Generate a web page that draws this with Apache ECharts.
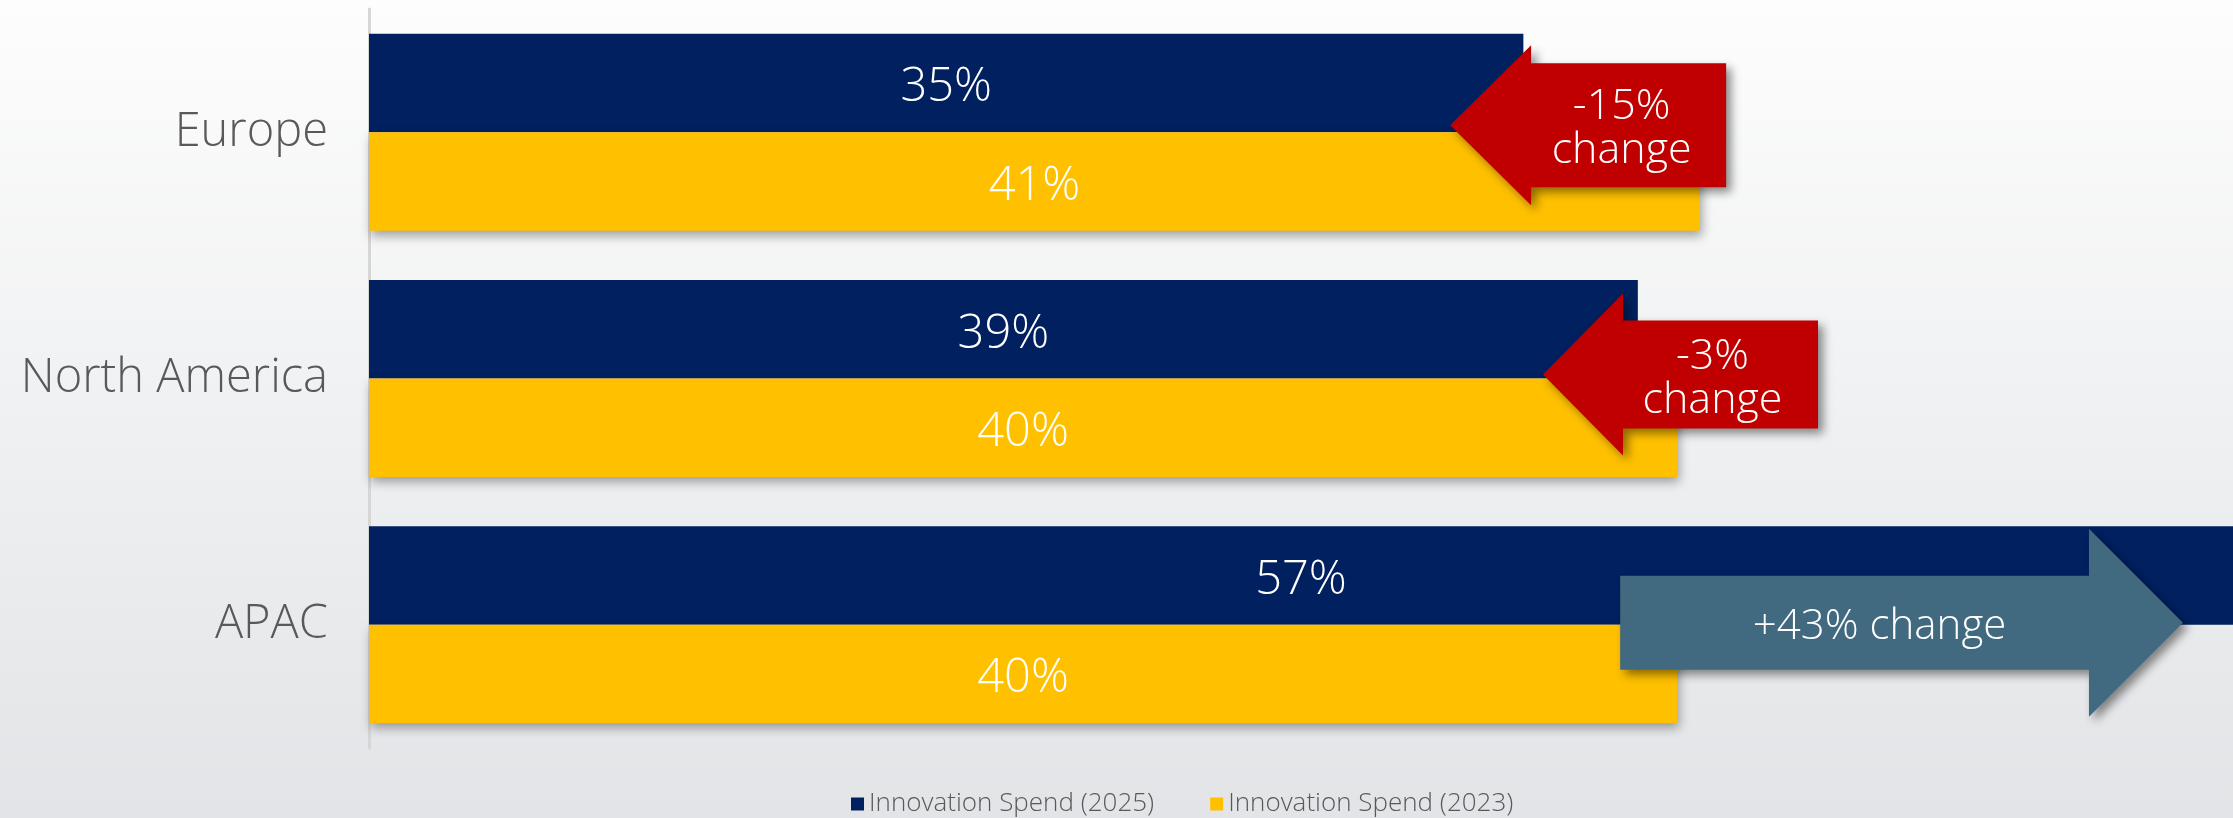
<!DOCTYPE html>
<html>
<head>
<meta charset="utf-8">
<style>
html,body{margin:0;padding:0;width:2233px;height:818px;overflow:hidden;}
#chart{width:2233px;height:818px;}
</style>
<script src="https://cdn.jsdelivr.net/npm/echarts@6/dist/echarts.min.js"></script>
</head>
<body>
<div id="chart"></div>
<script>
// ---- data ----
const categories = ['Europe', 'North America', 'APAC'];
const spend2025 = [35.3, 38.8, 57];
const spend2023 = [40.7, 40.0, 40.0];
const seriesNames = ['Innovation Spend (2025)', 'Innovation Spend (2023)'];
const changeLabels = ['-15%\nchange', '-3%\nchange', '+43% change'];

// ---- styling / annotation layout ----
const FONT = "'Open Sans', 'Noto Sans', sans-serif";
const NAVY = '#002060', GOLD = '#FFC000', RED = '#C00000', STEEL = '#41697F';
// arrow geometry: x positions in value-axis units, sizes in px
const arrowLayout = [
  { dir: -1, from: 33.06, to: 41.50, dy: -7, head: 80, body: 62, headLen: 81, color: RED, fontSize: 43, textDx: -7, textDy: 4 },
  { dir: -1, from: 35.90, to: 44.31, dy: -4, head: 81, body: 54, headLen: 80, color: RED, fontSize: 43, textDx: -8, textDy: 4 },
  { dir: 1, from: 38.26, to: 55.47, dy: -2, head: 94, body: 47, headLen: 94, color: STEEL, fontSize: 42, textDx: 25, textDy: 4 }
];

const chart = echarts.init(document.getElementById('chart'));

function renderArrow(params, api) {
  const i = params.dataIndex;
  const L = arrowLayout[i];
  const c = api.coord([L.from, api.value(1)]);
  const x1 = c[0];
  const x2 = api.coord([L.to, api.value(1)])[0];
  const cy = c[1] + L.dy;
  let pts, bodyL, bodyR;
  if (L.dir < 0) {
    const xh = x1 + L.headLen;
    pts = [[x1, cy], [xh, cy - L.head], [xh, cy - L.body], [x2, cy - L.body],
           [x2, cy + L.body], [xh, cy + L.body], [xh, cy + L.head]];
    bodyL = xh; bodyR = x2;
  } else {
    const xh = x2 - L.headLen;
    pts = [[x1, cy - L.body], [xh, cy - L.body], [xh, cy - L.head], [x2, cy],
           [xh, cy + L.head], [xh, cy + L.body], [x1, cy + L.body]];
    bodyL = x1; bodyR = xh;
  }
  return {
    type: 'group',
    children: [
      {
        type: 'polygon',
        shape: { points: pts },
        style: {
          fill: L.color,
          shadowBlur: 10, shadowOffsetX: 5, shadowOffsetY: 5,
          shadowColor: 'rgba(0,0,0,0.45)'
        }
      },
      {
        type: 'text',
        style: {
          text: changeLabels[i],
          x: (bodyL + bodyR) / 2 + L.textDx,
          y: cy + L.textDy,
          align: 'center',
          verticalAlign: 'middle',
          fill: '#ffffff',
          font: '300 ' + L.fontSize + 'px ' + FONT,
          lineHeight: 44
        }
      }
    ]
  };
}

const pctLabel = p => Math.round(p.value) + '%';

const option = {
  backgroundColor: new echarts.graphic.LinearGradient(0, 0, 0, 1, [
    { offset: 0, color: '#fdfdfd' },
    { offset: 0.45, color: '#f1f2f3' },
    { offset: 1, color: '#e3e4e7' }
  ]),
  animation: false,
  grid: { left: 369, right: 0, top: 9, bottom: 70 },
  legend: {
    data: seriesNames,
    left: 846,
    top: 786,
    itemWidth: 13,
    itemHeight: 13,
    itemGap: 56,
    icon: 'rect',
    textStyle: { color: '#595959', fontSize: 26, fontFamily: FONT, fontWeight: 300 }
  },
  xAxis: {
    type: 'value',
    min: 0,
    max: 57,
    show: false
  },
  yAxis: {
    type: 'category',
    data: categories,
    inverse: true,
    axisLine: { show: true, lineStyle: { color: '#d6d6d6', width: 3 } },
    axisTick: { show: false },
    axisLabel: { color: '#595959', fontSize: 47, fontFamily: FONT, fontWeight: 300, margin: 41, padding: [10, 0, 0, 0] },
    splitLine: { show: false }
  },
  series: [
    {
      name: seriesNames[0],
      type: 'bar',
      data: spend2025,
      barGap: '0%',
      barCategoryGap: '20%',
      itemStyle: { color: NAVY },
      label: {
        show: true, position: 'inside', formatter: pctLabel, offset: [0, 5],
        color: '#ffffff', fontSize: 47, fontFamily: FONT, fontWeight: 300
      }
    },
    {
      name: seriesNames[1],
      type: 'bar',
      data: spend2023,
      barGap: '0%',
      barCategoryGap: '20%',
      itemStyle: {
        color: GOLD,
        shadowBlur: 10, shadowOffsetX: 2, shadowOffsetY: 5,
        shadowColor: 'rgba(0,0,0,0.35)'
      },
      label: {
        show: true, position: 'inside', formatter: pctLabel, offset: [0, 5],
        color: '#ffffff', fontSize: 47, fontFamily: FONT, fontWeight: 300
      }
    },
    {
      name: 'change',
      type: 'custom',
      renderItem: renderArrow,
      encode: { x: 0, y: 1 },
      data: spend2025.map((v, i) => [v, i]),
      z: 5,
      silent: true
    }
  ]
};
chart.setOption(option);
</script>
</body>
</html>
